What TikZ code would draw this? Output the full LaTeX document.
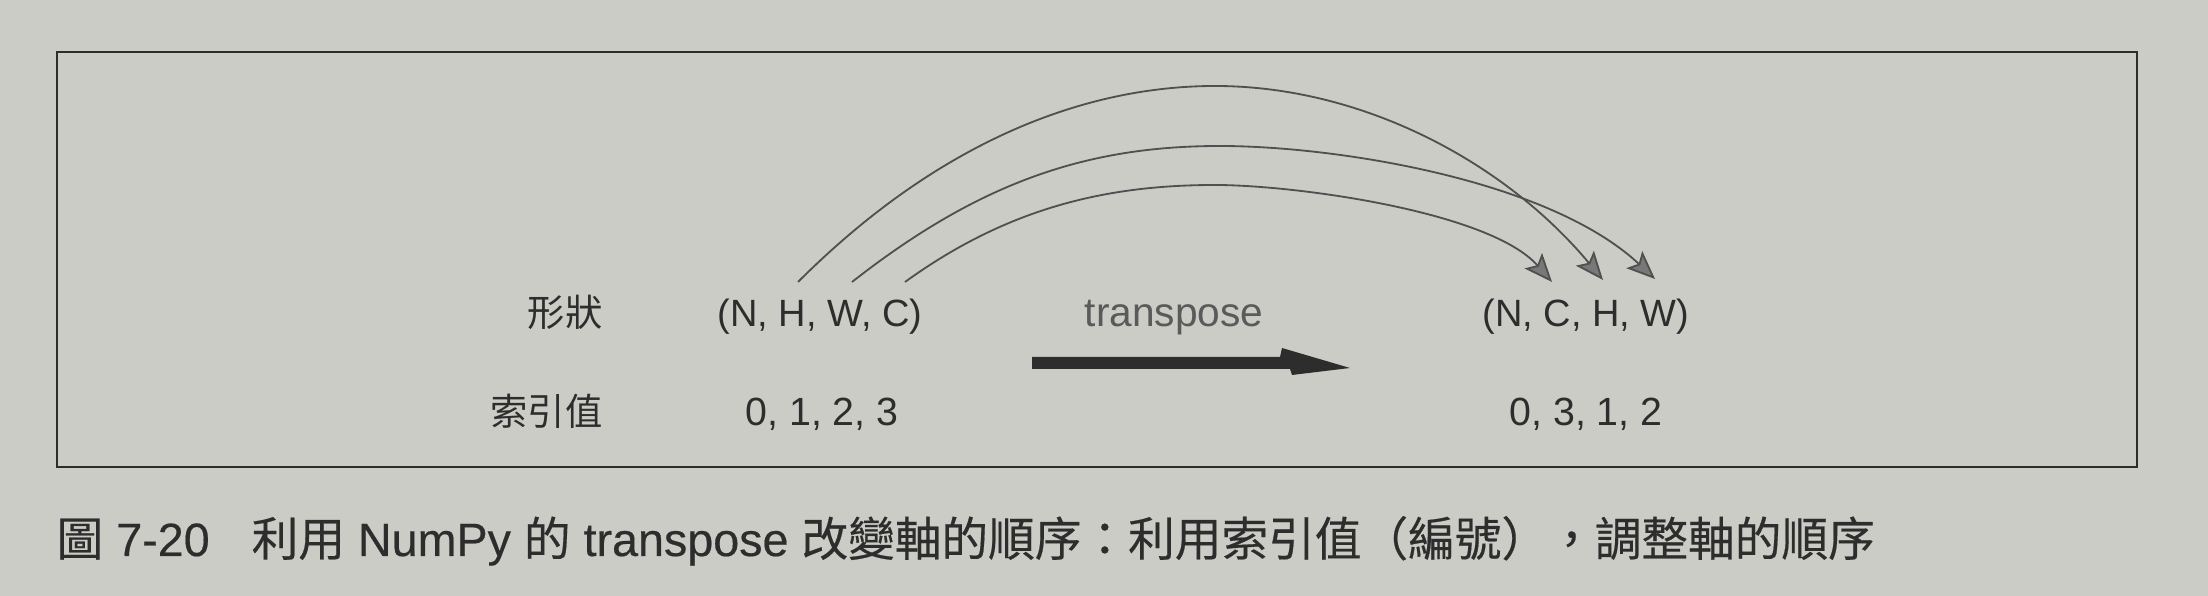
\documentclass[tikz,border=0pt]{standalone}
\usepackage{fontspec}
\setmainfont{Liberation Sans}
\newfontfamily\cjk{Noto Sans CJK TC}
\newfontfamily\cjkcap[FakeBold=0.4]{Noto Sans CJK TC}
\newfontfamily\latcap[FakeBold=0.4]{Liberation Sans}
\usetikzlibrary{arrows.meta}
\definecolor{paper}{RGB}{204,204,199}
\definecolor{ink}{RGB}{45,45,45}
\definecolor{arcink}{RGB}{80,80,80}
\definecolor{headfill}{RGB}{120,120,120}
\definecolor{greytext}{RGB}{90,90,90}
\newcommand{\zh}[1]{{\cjkcap #1}}
\begin{document}
\begin{tikzpicture}[x=0.3pt,y=-0.3pt,
  lbl/.style={inner sep=0pt, anchor=base, text=ink},
  zhlbl/.style={lbl, anchor=base east, font=\cjk\fontsize{11.2}{13}\selectfont},
  tuple/.style={lbl, font=\fontsize{11.4}{13}\selectfont},
  digits/.style={lbl, font=\fontsize{11.8}{13}\selectfont},
  arcarrow/.style={draw=arcink, line width=0.55pt,
    -{Stealth[length=8.5pt,width=7pt,inset=1.8pt,fill=headfill]}},
  bigarrow/.style={fill=ink, draw=none}]
\fill[paper] (0,0) rectangle (2208,596);
\useasboundingbox (0,0) rectangle (2208,596);
\draw[ink, line width=0.75pt] (57,52) rectangle (2137,467);

% labels
\node[zhlbl] (shapeLbl) at (603,327) {形狀};
\node[zhlbl] (idxLbl) at (603,426) {索引值};
\node[tuple] (src) at (820,327) {(N, H, W, C)};
\node[tuple] (dst) at (1586,327) {(N, C, H, W)};
\node[digits] (srcIdx) at (822,426) {0, 1, 2, 3};
\node[digits] (dstIdx) at (1586,426) {0, 3, 1, 2};
\node[lbl, text=greytext, font=\fontsize{12.2}{14}\selectfont] (trans) at (1174,327) {transpose};

% big arrow
\fill[bigarrow] (1032,357) -- (1280,357) -- (1282,348) -- (1350,368)
  -- (1292,375) -- (1290,369) -- (1032,369) -- cycle;

% arc end points
\coordinate (sH) at (798,282);
\coordinate (sW) at (852,282);
\coordinate (sC) at (905,282);
\coordinate (eH) at (1603,280);
\coordinate (eW) at (1655,279);
\coordinate (eC) at (1552,282);

\draw[arcarrow] (sH) .. controls (934,146) and (1079,86) .. (1215,86)
  .. controls (1365,86) and (1507,164.5) .. (eH);
\draw[arcarrow] (sW) .. controls (982,180) and (1090,146) .. (1220,146)
  .. controls (1334,146) and (1548,179) .. (eW);
\draw[arcarrow] (sC) .. controls (1010,206) and (1110,185) .. (1215,185)
  .. controls (1295,185) and (1490,211.5) .. (eC);

% caption
\node[lbl, anchor=base west, font=\latcap\fontsize{14}{16}\selectfont] (cap) at (56,556)
  {\zh{圖} 7-20\hspace{0.9em}\zh{利用} NumPy \zh{的} transpose \zh{改變軸的順序：利用索引值（編號），調整軸的順序}};
\end{tikzpicture}
\end{document}
